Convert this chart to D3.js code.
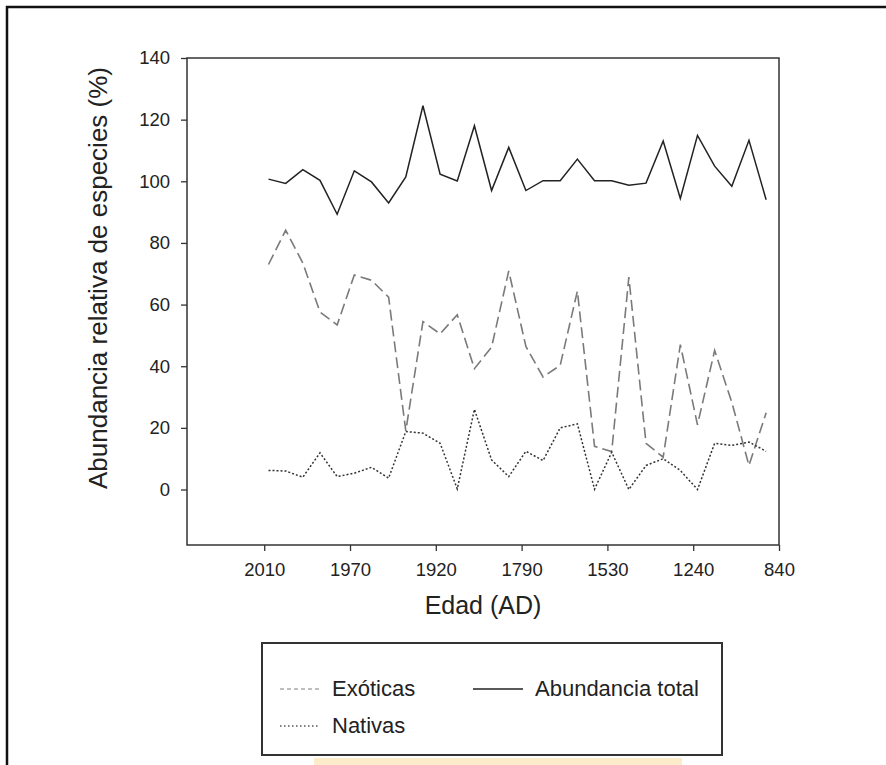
<!DOCTYPE html>
<html>
<head>
<meta charset="utf-8">
<script src="https://cdn.jsdelivr.net/npm/d3@7"></script>
<style>
  body { margin: 0; background: #fff; }
  text { font-family: "Liberation Sans", Arial, sans-serif; fill: #222; }
</style>
</head>
<body>
<div id="chart"></div>
<script>
// sample position (0 = most recent) and tick labels for the age axis
var samples = d3.range(30);
var ageTickPos = [-0.25, 4.75, 9.75, 14.75, 19.75, 24.75, 29.75];
var ageTickLabels = ["2010", "1970", "1920", "1790", "1530", "1240", "840"];
var yTicks = [0, 20, 40, 60, 80, 100, 120, 140];

var total = [100.7, 99.3, 103.8, 100.3, 89.3, 103.4, 99.8, 93, 101.4, 124.5,
             102.3, 100.1, 118, 97, 111, 97, 100.2, 100.2, 107.2, 100.2,
             100.2, 98.7, 99.4, 113.1, 94.4, 114.9, 104.9, 98.4, 113.3, 94];
var exoticas = [73, 84.1, 73.5, 57.6, 53.4, 69.6, 67.9, 62.4, 19, 54.5,
                50.5, 56.7, 39.2, 46.2, 70.9, 46.4, 36.5, 40.3, 64.4, 14,
                12.3, 68.9, 15, 10.5, 47, 21, 45.1, 28.3, 7.8, 24.9];
var nativas = [6.2, 6, 4, 11.9, 4.2, 5.3, 7.2, 3.7, 18.8, 18.3,
               15, 0.2, 26, 9.6, 4.2, 12.4, 9.4, 20, 21.3, 0.1,
               12.1, 0, 7.8, 10, 6.2, 0, 15, 14.3, 15.4, 12.4];

var W = 886, H = 765;
var svg = d3.select("#chart").append("svg")
    .attr("width", W)
    .attr("height", H);

// outer figure frame
svg.append("rect")
    .attr("x", 7).attr("y", 7)
    .attr("width", W).attr("height", H)
    .attr("fill", "none")
    .attr("stroke", "#111")
    .attr("stroke-width", 2.5);

var pLeft = 187, pRight = 779, pTop = 58, pBottom = 545;

var x = d3.scaleLinear().domain([-4.75, 29.75]).range([pLeft, pRight]);
var y = d3.scaleLinear().domain([-18, 140]).range([pBottom, pTop]);

// axes
var xAxis = d3.axisBottom(x)
    .tickValues(ageTickPos)
    .tickFormat(function(d, i) { return ageTickLabels[i]; })
    .tickSizeInner(6).tickSizeOuter(0).tickPadding(12);
var yAxis = d3.axisLeft(y)
    .tickValues(yTicks)
    .tickSizeInner(6).tickSizeOuter(0).tickPadding(11);

var gx = svg.append("g")
    .attr("transform", "translate(0," + pBottom + ")")
    .call(xAxis);
var gy = svg.append("g")
    .attr("transform", "translate(" + pLeft + ",0)")
    .call(yAxis);

[gx, gy].forEach(function(g) {
  g.select(".domain").remove();
  g.selectAll(".tick line").attr("stroke", "#333").attr("stroke-width", 1.3);
  g.selectAll(".tick text")
      .attr("fill", "#222")
      .style("font-size", "18.5px")
      .style("font-family", "'Liberation Sans', Arial, sans-serif");
});

// plot box
svg.append("rect")
    .attr("x", pLeft).attr("y", pTop)
    .attr("width", pRight - pLeft).attr("height", pBottom - pTop)
    .attr("fill", "none")
    .attr("stroke", "#333")
    .attr("stroke-width", 1.5);

var line = d3.line()
    .x(function(d, i) { return x(samples[i]); })
    .y(function(d) { return y(d); });

svg.append("path")
    .datum(exoticas)
    .attr("d", line)
    .attr("fill", "none")
    .attr("stroke", "#7a7a7a")
    .attr("stroke-width", 1.6)
    .attr("stroke-dasharray", "11,5");

svg.append("path")
    .datum(nativas)
    .attr("d", line)
    .attr("fill", "none")
    .attr("stroke", "#333")
    .attr("stroke-width", 1.5)
    .attr("stroke-dasharray", "2,2");

svg.append("path")
    .datum(total)
    .attr("d", line)
    .attr("fill", "none")
    .attr("stroke", "#222")
    .attr("stroke-width", 1.5);

// axis titles
svg.append("text")
    .attr("x", (pLeft + pRight) / 2)
    .attr("y", 614)
    .attr("text-anchor", "middle")
    .style("font-size", "25px")
    .text("Edad (AD)");

svg.append("text")
    .attr("transform", "translate(107,278) rotate(-90)")
    .attr("text-anchor", "middle")
    .style("font-size", "26px")
    .text("Abundancia relativa de especies (%)");

// legend
var lg = svg.append("g");
lg.append("rect")
    .attr("x", 262).attr("y", 643)
    .attr("width", 460).attr("height", 112)
    .attr("fill", "#fff")
    .attr("stroke", "#333")
    .attr("stroke-width", 2);

var legendItems = [
  {name: "Exóticas", x: 280, y: 689, len: 40, color: "#aaa", dash: "4,3"},
  {name: "Nativas", x: 280, y: 726, len: 40, color: "#555", dash: "1.5,2.5"},
  {name: "Abundancia total", x: 473, y: 689, len: 50, color: "#222", dash: null}
];
legendItems.forEach(function(d) {
  lg.append("line")
      .attr("x1", d.x).attr("x2", d.x + d.len)
      .attr("y1", d.y).attr("y2", d.y)
      .attr("stroke", d.color)
      .attr("stroke-width", 1.5)
      .attr("stroke-dasharray", d.dash);
  lg.append("text")
      .attr("x", d.x + d.len + 12)
      .attr("y", d.y + 7)
      .style("font-size", "22px")
      .text(d.name);
});

// pale highlight strip under the legend
svg.append("rect")
    .attr("x", 314).attr("y", 758)
    .attr("width", 368).attr("height", 7)
    .attr("fill", "#fdecc9");
</script>
</body>
</html>
